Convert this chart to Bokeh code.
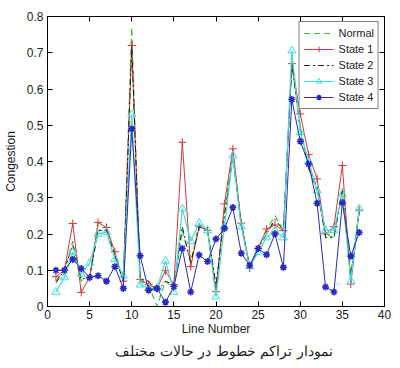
from bokeh.plotting import figure
from bokeh.models import LinearAxis, Range1d, FixedTicker, Title, Legend, LegendItem
from bokeh.embed import file_html
from bokeh.resources import INLINE

line_number = list(range(1, 38))
normal = [0.07, 0.10, 0.18, 0.07, 0.08, 0.21, 0.21, 0.14, 0.07, 0.77, 0.07, 0.06, 0.00, 0.07, 0.05, 0.21, 0.12, 0.23, 0.21, 0.05, 0.26, 0.42, 0.22, 0.11, 0.16, 0.21, 0.25, 0.21, 0.67, 0.50, 0.38, 0.32, 0.20, 0.19, 0.33, 0.09, 0.27]
state1 = [0.082, 0.10, 0.229, 0.039, 0.08, 0.232, 0.218, 0.151, 0.07, 0.72, 0.075, 0.06, 0.05, 0.099, 0.06, 0.453, 0.11, 0.22, 0.21, 0.041, 0.283, 0.435, 0.23, 0.106, 0.16, 0.214, 0.225, 0.209, 0.67, 0.531, 0.419, 0.352, 0.20, 0.22, 0.389, 0.062, 0.266]
state2 = [0.065, 0.10, 0.17, 0.075, 0.08, 0.21, 0.21, 0.14, 0.07, 0.72, 0.075, 0.07, 0.04, 0.07, 0.06, 0.22, 0.12, 0.22, 0.21, 0.06, 0.25, 0.41, 0.23, 0.11, 0.16, 0.20, 0.24, 0.21, 0.67, 0.49, 0.38, 0.33, 0.19, 0.19, 0.32, 0.08, 0.26]
state3 = [0.04, 0.08, 0.15, 0.09, 0.12, 0.20, 0.205, 0.13, 0.085, 0.53, 0.06, 0.05, 0.05, 0.126, 0.04, 0.27, 0.18, 0.23, 0.21, 0.027, 0.22, 0.416, 0.22, 0.11, 0.15, 0.19, 0.21, 0.19, 0.706, 0.48, 0.40, 0.32, 0.21, 0.21, 0.31, 0.07, 0.27]
state4 = [0.10, 0.10, 0.13, 0.105, 0.08, 0.085, 0.07, 0.11, 0.05, 0.49, 0.14, 0.045, 0.05, 0.012, 0.055, 0.16, 0.04, 0.142, 0.124, 0.186, 0.215, 0.273, 0.147, 0.114, 0.16, 0.143, 0.20, 0.108, 0.571, 0.456, 0.393, 0.285, 0.054, 0.04, 0.286, 0.139, 0.204]

x_ticks = [0, 5, 10, 15, 20, 25, 30, 35, 40]
y_ticks = [0, 0.1, 0.2, 0.3, 0.4, 0.5, 0.6, 0.7, 0.8]
caption = "نمودار تراکم خطوط در حالات مختلف"

FONT = "Liberation Sans"

p = figure(width=392, height=360, output_backend="svg", toolbar_location=None,
           x_range=Range1d(0, 40), y_range=Range1d(0, 0.8),
           min_border_left=4, min_border_right=8, min_border_top=16, min_border_bottom=2)
p.grid.visible = False
p.outline_line_color = "black"
p.background_fill_color = "white"

for ax in p.xaxis + p.yaxis:
    ax.major_tick_in = 5
    ax.major_tick_out = 0
    ax.minor_tick_line_color = None
    ax.major_label_text_font = FONT
    ax.major_label_text_font_size = "12px"
    ax.major_label_text_color = "#222222"
    ax.axis_label_text_font = FONT
    ax.axis_label_text_font_size = "12px"
    ax.axis_label_text_font_style = "normal"
    ax.axis_label_text_color = "#222222"
p.xaxis.ticker = FixedTicker(ticks=x_ticks)
p.yaxis.ticker = FixedTicker(ticks=y_ticks)
p.xaxis.axis_label = "Line Number"
p.yaxis.axis_label = "Congestion"
p.xaxis.axis_label_standoff = 0
p.yaxis.axis_label_standoff = 6
p.xaxis.major_label_standoff = 3
p.yaxis.major_label_standoff = 4

top = LinearAxis(ticker=FixedTicker(ticks=x_ticks), major_label_overrides={t: "" for t in x_ticks},
                 major_tick_in=5, major_tick_out=0, minor_tick_line_color=None, major_label_standoff=0)
right = LinearAxis(ticker=FixedTicker(ticks=y_ticks), major_label_overrides={t: "" for t in y_ticks},
                   major_tick_in=5, major_tick_out=0, minor_tick_line_color=None, major_label_standoff=0)
p.add_layout(top, "above")
p.add_layout(right, "right")

c_norm = "#3fbf3f"
c_s1 = "#d03a3a"
c_s2 = "#222222"
c_s3 = "#3fdede"
c_s4 = "#2a2ac0"

r0 = p.line(line_number, normal, line_color=c_norm, line_dash="6 4", line_width=1.2)
r1 = p.line(line_number, state1, line_color=c_s1, line_width=1)
m1 = p.scatter(line_number, state1, marker="cross", size=8, line_color=c_s1, line_width=1)
r2 = p.line(line_number, state2, line_color=c_s2, line_dash="6 3 2 3", line_width=1)
r3 = p.line(line_number, state3, line_color=c_s3, line_width=1.2)
m3 = p.scatter(line_number, state3, marker="triangle", size=8, line_color=c_s3, fill_color=None, line_width=1)
r4 = p.line(line_number, state4, line_color=c_s4, line_width=1)
m4 = p.scatter(line_number, state4, marker="asterisk", size=7, line_color=c_s4, line_width=1.6)

legend = Legend(items=[
    LegendItem(label="Normal", renderers=[r0]),
    LegendItem(label="State 1", renderers=[r1, m1]),
    LegendItem(label="State 2", renderers=[r2]),
    LegendItem(label="State 3", renderers=[r3, m3]),
    LegendItem(label="State 4", renderers=[r4, m4]),
], location="top_right")
legend.label_text_font = FONT
legend.label_text_font_size = "11px"
legend.label_text_color = "#222222"
legend.border_line_color = "black"
legend.border_line_width = 1
legend.background_fill_alpha = 1
legend.glyph_width = 30
legend.glyph_height = 14
legend.label_height = 14
legend.spacing = 2
legend.padding = 4
legend.margin = 5
legend.label_standoff = 5
p.add_layout(legend)

cap = Title(text=caption, align="left", text_font="DejaVu Serif", text_font_size="14px",
            text_font_style="normal", text_color="#222222", offset=67, standoff=4)
p.add_layout(cap, "below")

open("out.html", "w").write(file_html(p, INLINE))
